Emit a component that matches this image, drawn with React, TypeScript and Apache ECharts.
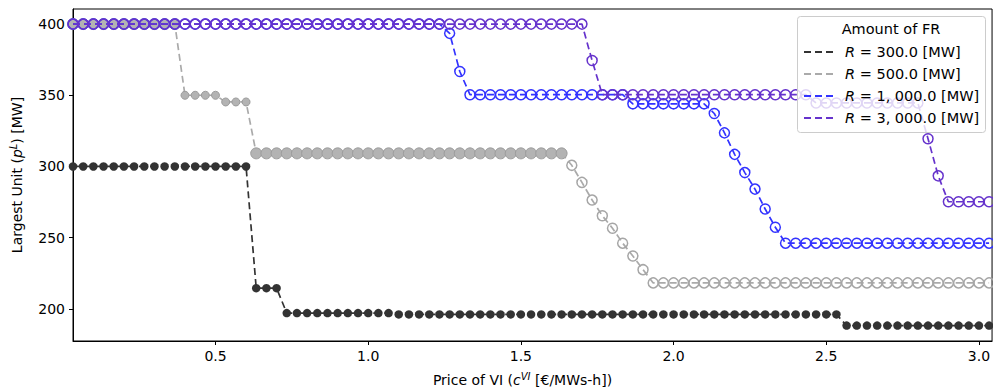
import React, { useEffect, useRef } from "react";
import * as echarts from "echarts";

// Price of VI (x positions)
const PRICE = [
  0.0333, 0.0667, 0.1, 0.1333, 0.1667, 0.2, 0.2333, 0.2667, 0.3, 0.3333,
  0.3667, 0.4, 0.4333, 0.4667, 0.5, 0.5333, 0.5667, 0.6, 0.6333, 0.6667,
  0.7, 0.7333, 0.7667, 0.8, 0.8333, 0.8667, 0.9, 0.9333, 0.9667, 1.0,
  1.0333, 1.0667, 1.1, 1.1333, 1.1667, 1.2, 1.2333, 1.2667, 1.3, 1.3333,
  1.3667, 1.4, 1.4333, 1.4667, 1.5, 1.5333, 1.5667, 1.6, 1.6333, 1.6667,
  1.7, 1.7333, 1.7667, 1.8, 1.8333, 1.8667, 1.9, 1.9333, 1.9667, 2.0,
  2.0333, 2.0667, 2.1, 2.1333, 2.1667, 2.2, 2.2333, 2.2667, 2.3, 2.3333,
  2.3667, 2.4, 2.4333, 2.4667, 2.5, 2.5333, 2.5667, 2.6, 2.6333, 2.6667,
  2.7, 2.7333, 2.7667, 2.8, 2.8333, 2.8667, 2.9, 2.9333, 2.9667, 3.0,
  3.0333,
];

const R300 = [
  300, 300, 300, 300, 300, 300, 300, 300, 300, 300,
  300, 300, 300, 300, 300, 300, 300, 300, 214.5, 214.5,
  214.5, 197, 197, 197, 197, 197, 197, 197, 197, 197,
  197, 197, 196.1, 196.1, 196.1, 196.1, 196.1, 196.1, 196.1, 196.1,
  196.1, 196.1, 196.1, 196.1, 196.1, 196.1, 196.1, 196.1, 196.1, 196.1,
  196.1, 196.1, 196.1, 196.1, 196.1, 196.1, 196.1, 196.1, 196.1, 196.1,
  196.1, 196.1, 196.1, 196.1, 196.1, 196.1, 196.1, 196.1, 196.1, 196.1,
  196.1, 196.1, 196.1, 196.1, 196.1, 196.1, 188.2, 188.2, 188.2, 188.2,
  188.2, 188.2, 188.2, 188.2, 188.2, 188.2, 188.2, 188.2, 188.2, 188.2,
  188.2,
];

const R500 = [
  400, 400, 400, 400, 400, 400, 400, 400, 400, 400,
  400, 350, 350, 350, 350, 345.3, 345.3, 345.3, 309.2, 309.2,
  309.2, 309.2, 309.2, 309.2, 309.2, 309.2, 309.2, 309.2, 309.2, 309.2,
  309.2, 309.2, 309.2, 309.2, 309.2, 309.2, 309.2, 309.2, 309.2, 309.2,
  309.2, 309.2, 309.2, 309.2, 309.2, 309.2, 309.2, 309.2, 309.2, 300.8,
  288.8, 276.4, 265.4, 256.6, 246.1, 237.1, 227.5, 218.2, 218.2, 218.2,
  218.2, 218.2, 218.2, 218.2, 218.2, 218.2, 218.2, 218.2, 218.2, 218.2,
  218.2, 218.2, 218.2, 218.2, 218.2, 218.2, 218.2, 218.2, 218.2, 218.2,
  218.2, 218.2, 218.2, 218.2, 218.2, 218.2, 218.2, 218.2, 218.2, 218.2,
  218.2,
];

const R1000 = [
  400, 400, 400, 400, 400, 400, 400, 400, 400, 400,
  400, 400, 400, 400, 400, 400, 400, 400, 400, 400,
  400, 400, 400, 400, 400, 400, 400, 400, 400, 400,
  400, 400, 400, 400, 400, 400, 400, 393.5, 366.7, 350.4,
  350.4, 350.4, 350.4, 350.4, 350.4, 350.4, 350.4, 350.4, 350.4, 350.4,
  350.4, 350.4, 350.4, 350.4, 350.4, 344.0, 344.0, 344.0, 344.0, 344.0,
  344.0, 344.0, 344.0, 337.2, 323.6, 308.5, 295.7, 284.1, 270.1, 257.3,
  246.1, 246.1, 246.1, 246.1, 246.1, 246.1, 246.1, 246.1, 246.1, 246.1,
  246.1, 246.1, 246.1, 246.1, 246.1, 246.1, 246.1, 246.1, 246.1, 246.1,
  246.1,
];

const R3000 = [
  400, 400, 400, 400, 400, 400, 400, 400, 400, 400,
  400, 400, 400, 400, 400, 400, 400, 400, 400, 400,
  400, 400, 400, 400, 400, 400, 400, 400, 400, 400,
  400, 400, 400, 400, 400, 400, 400, 400, 400, 400,
  400, 400, 400, 400, 400, 400, 400, 400, 400, 400,
  400, 374.4, 350.4, 350.4, 350.4, 350.4, 350.4, 350.4, 350.4, 350.4,
  350.4, 350.4, 350.4, 350.4, 350.4, 350.4, 350.4, 350.4, 350.4, 350.4,
  350.4, 350.4, 350.4, 344.6, 344.6, 344.6, 344.6, 344.6, 344.6, 344.6,
  344.6, 344.6, 344.6, 344.6, 319.5, 293.4, 275.2, 275.2, 275.2, 275.2,
  275.2,
];

const SERIES_NAMES = ["R = 300.0 [MW]", "R = 500.0 [MW]", "R = 1, 000.0 [MW]", "R = 3, 000.0 [MW]"];
const X_TICKS = [0.5, 1.0, 1.5, 2.0, 2.5, 3.0];
const Y_TICKS = [200, 250, 300, 350, 400];
const LEGEND_TITLE = "Amount of FR";

const FONT = "DejaVu Sans";
const FS = 14;
const LFS = 14.5;
const BLACK = "#333333";
const GRAY = "#aaaaaa";
const BLUE = "#3333ff";
const PURPLE = "#6633cc";
const DASH = [7, 4];

export default function App() {
  const ref = useRef<HTMLDivElement>(null);
  useEffect(() => {
    document.body.style.margin = "0";
    const chart = echarts.init(ref.current!, null, { renderer: "svg" });
    const pts = (vals: number[]) => PRICE.map((x, i) => [x, vals[i]]);

    const grayData = PRICE.map((x, i) => {
      const small = i >= 11 && i <= 17;
      const filled = i <= 48;
      return {
        value: [x, R500[i]],
        symbolSize: small ? 8 : filled ? 11 : 10,
        itemStyle: filled
          ? { color: "#b3b3b3", borderColor: "#9c9c9c", borderWidth: 1 }
          : { color: "rgba(0,0,0,0)", borderColor: "#a6a6a6", borderWidth: 1.5 },
      };
    });

    const openItem = (c: string) => ({ color: "rgba(0,0,0,0)", borderColor: c, borderWidth: 1.5 });
    const colors = [BLACK, GRAY, BLUE, PURPLE];
    const rich = {
      a: { fontFamily: FONT, fontSize: FS, color: "#000", lineHeight: 18 },
      i: { fontFamily: FONT, fontSize: FS, color: "#000", fontStyle: "italic", lineHeight: 18 },
      s: { fontFamily: FONT, fontSize: 10, color: "#000", fontStyle: "italic", lineHeight: 8, verticalAlign: "top" },
    };

    const option: any = {
      animation: false,
      backgroundColor: "#ffffff",
      textStyle: { fontFamily: FONT },
      grid: {
        left: 69,
        right: -3,
        top: 9,
        bottom: 50,
        show: true,
        borderColor: "#000",
        borderWidth: 1,
        backgroundColor: "rgba(0,0,0,0)",
      },
      xAxis: {
        type: "value",
        min: 0.0333,
        max: 3.043,
        splitLine: { show: false },
        axisLine: { lineStyle: { color: "#000", width: 1 } },
        axisTick: { customValues: X_TICKS, length: 4, lineStyle: { color: "#000" } },
        axisLabel: {
          customValues: X_TICKS,
          formatter: (v: number) => v.toFixed(1),
          color: "#000",
          fontFamily: FONT,
          fontSize: FS,
          margin: 8,
        },
        name: "{a|Price of VI (}{i|c}{s|VI}{a| [€/MWs-h])}",
        nameLocation: "middle",
        nameGap: 30,
        nameTextStyle: { padding: [0, 20, 0, 0], rich },
      },
      yAxis: {
        type: "value",
        min: 177.4,
        max: 410.6,
        splitLine: { show: false },
        axisLine: { show: true, lineStyle: { color: "#000", width: 1 } },
        axisTick: { show: true, customValues: Y_TICKS, length: 4, lineStyle: { color: "#000" } },
        axisLabel: {
          customValues: Y_TICKS,
          color: "#000",
          fontFamily: FONT,
          fontSize: FS,
          margin: 8,
        },
        name: "{a|Largest Unit (}{i|p}{s|L}{a|) [MW]}",
        nameLocation: "middle",
        nameRotate: 90,
        nameGap: 47,
        nameTextStyle: { rich },
      },
      legend: {
        orient: "vertical",
        left: 804,
        top: 41,
        padding: 0,
        z: 20,
        selectedMode: false,
        icon: "path://M0,0H7V2H0Z M11,0H18V2H11Z M22,0H29V2H22Z",
        itemWidth: 29,
        itemHeight: 2,
        itemGap: 0,
        data: SERIES_NAMES.map((n, i) => ({ name: n, itemStyle: { color: colors[i], borderWidth: 0 } })),
        formatter: (n: string) => "{i|R}{t|" + n.slice(1) + "}",
        textStyle: {
          color: "#000",
          fontFamily: FONT,
          fontSize: LFS,
          lineHeight: 22,
          padding: [0, 0, 0, 7],
          rich: {
            i: { fontFamily: FONT, fontSize: LFS, fontStyle: "italic", color: "#000", lineHeight: 22 },
            t: { fontFamily: FONT, fontSize: LFS, color: "#000", lineHeight: 22 },
          },
        },
      },
      graphic: [
        {
          type: "rect",
          left: 797,
          top: 16,
          z: 15,
          shape: { width: 188, height: 116, r: 3 },
          style: { fill: "rgba(255,255,255,0.8)", stroke: "#cccccc", lineWidth: 1 },
        },
        {
          type: "text",
          x: 891,
          y: 29,
          z: 16,
          style: {
            text: LEGEND_TITLE,
            fill: "#000",
            font: `${LFS}px "${FONT}"`,
            textAlign: "center",
            textVerticalAlign: "middle",
          },
        },
      ],
      series: [
        {
          type: "line",
          name: SERIES_NAMES[0],
          data: pts(R300),
          symbol: "circle",
          symbolSize: 8.5,
          showAllSymbol: true,
          z: 2,
          lineStyle: { color: BLACK, width: 1.7, type: DASH },
          itemStyle: { color: BLACK, borderWidth: 0 },
        },
        {
          type: "line",
          name: SERIES_NAMES[1],
          data: grayData,
          symbol: "circle",
          showAllSymbol: true,
          z: 3,
          lineStyle: { color: GRAY, width: 1.7, type: DASH },
          itemStyle: { color: GRAY },
        },
        {
          type: "line",
          name: SERIES_NAMES[2],
          data: pts(R1000),
          symbol: "circle",
          symbolSize: 10,
          showAllSymbol: true,
          z: 4,
          lineStyle: { color: BLUE, width: 1.7, type: DASH },
          itemStyle: openItem(BLUE),
        },
        {
          type: "line",
          name: SERIES_NAMES[3],
          data: pts(R3000),
          symbol: "circle",
          symbolSize: 10,
          showAllSymbol: true,
          z: 5,
          lineStyle: { color: PURPLE, width: 1.7, type: DASH },
          itemStyle: openItem(PURPLE),
        },
      ],
    };
    chart.setOption(option);
    return () => chart.dispose();
  }, []);
  return <div ref={ref} style={{ width: 993, height: 392 }} />;
}
